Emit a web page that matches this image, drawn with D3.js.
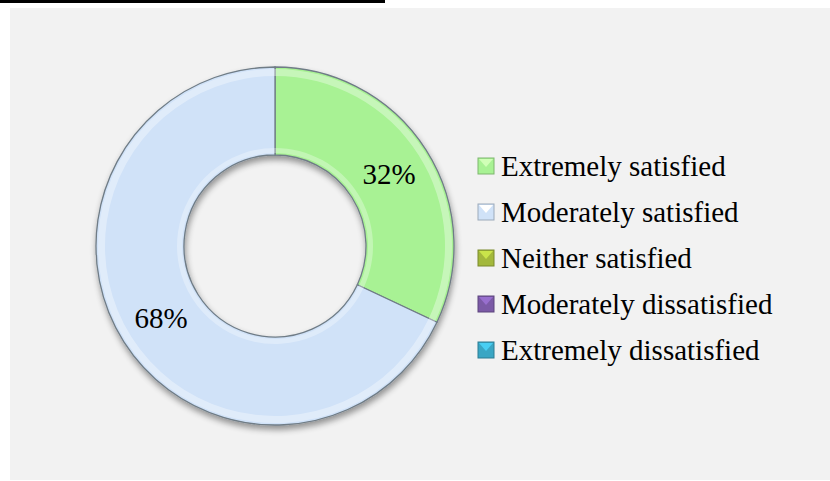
<!DOCTYPE html>
<meta charset="utf-8">
<html>
  <head>
    <style>
      body { margin: 0; background: #ffffff; }
      svg { display: block; }
    </style>
    <script src="https://d3js.org/d3.v7.min.js"></script>
  </head>
  <body>
<div id="chart"></div>
<script>

// data
var categories = ["Extremely satisfied", "Moderately satisfied", "Neither satisfied",
                  "Moderately dissatisfied", "Extremely dissatisfied"];
var values = [32, 68, 0, 0, 0];
var colors = ["#a8f294", "#d0e2f8", "#a3b83c", "#7b5aa6", "#3aa6c4"];

var width = 830, height = 481;
var cx = 275, cy = 246, outerR = 179, innerR = 91;
var serif = "'Liberation Serif', 'Times New Roman', serif";

var svg = d3.select("#chart")
  .append("svg")
  .attr("width", width)
  .attr("height", height);

// black bar at top and grey plot panel
svg.append("rect").attr("x", 0).attr("y", 0).attr("width", 385).attr("height", 3).attr("fill", "#000");
svg.append("rect").attr("x", 10).attr("y", 8).attr("width", 820).attr("height", 472).attr("fill", "#f2f2f2");

var defs = svg.append("defs");
var shadow = defs.append("filter").attr("id", "shadow")
  .attr("x", "-10%").attr("y", "-10%").attr("width", "120%").attr("height", "125%");
shadow.append("feGaussianBlur").attr("in", "SourceAlpha").attr("stdDeviation", 3).attr("result", "blur");
shadow.append("feOffset").attr("dx", 1).attr("dy", 4).attr("result", "off");
shadow.append("feComponentTransfer").append("feFuncA").attr("type", "linear").attr("slope", 0.4);
var merge = shadow.append("feMerge");
merge.append("feMergeNode");
merge.append("feMergeNode").attr("in", "SourceGraphic");

var data = categories.map(function(c, i) { return {name: c, value: values[i], color: colors[i]}; });

var pie = d3.pie()
  .sort(null)
  .value(function(d) { return d.value; });

var arc = d3.arc().innerRadius(innerR).outerRadius(outerR);
// thin highlight band just inside the edges
var hiOuter = d3.arc().innerRadius(outerR - 9).outerRadius(outerR - 2);
var hiInner = d3.arc().innerRadius(innerR + 2).outerRadius(innerR + 7);

var arcs = pie(data).filter(function(d) { return d.data.value > 0; });

var g = svg.append("g")
  .attr("transform", "translate(" + cx + "," + cy + ")");

var ring = g.append("g").attr("filter", "url(#shadow)");

ring.selectAll("path.slice")
  .data(arcs)
  .enter()
  .append("path")
  .attr("class", "slice")
  .attr("d", arc)
  .attr("fill", function(d) { return d.data.color; })
  .attr("stroke", "#6f7c86")
  .attr("stroke-width", 1.3);

g.selectAll("path.hi")
  .data(arcs)
  .enter()
  .append("path")
  .attr("class", "hi")
  .attr("d", hiOuter)
  .attr("fill", "#ffffff")
  .attr("opacity", 0.35);

g.selectAll("path.hi2")
  .data(arcs)
  .enter()
  .append("path")
  .attr("class", "hi2")
  .attr("d", hiInner)
  .attr("fill", "#ffffff")
  .attr("opacity", 0.3);

g.selectAll("text.pct")
  .data(arcs)
  .enter()
  .append("text")
  .attr("class", "pct")
  .attr("transform", function(d) { return "translate(" + arc.centroid(d) + ")"; })
  .attr("text-anchor", "middle")
  .attr("dy", "0.35em")
  .style("font-family", serif)
  .style("font-size", "29px")
  .attr("fill", "#000")
  .text(function(d) { return d.data.value + "%"; });

// legend
var legendY = d3.scalePoint()
  .domain(categories)
  .range([166, 350]);

var item = svg.append("g").selectAll("g")
  .data(data)
  .enter()
  .append("g")
  .attr("transform", function(d) { return "translate(478," + legendY(d.name) + ")"; });

var s = 16;
item.append("rect")
  .attr("x", 0).attr("y", -s / 2)
  .attr("width", s).attr("height", s)
  .attr("fill", function(d) { return d.color; })
  .attr("stroke", function(d) { return d3.color(d.color).darker(0.8); })
  .attr("stroke-width", 1);

item.append("path")
  .attr("d", "M1," + (-s / 2 + 1) + "L" + (s - 1) + "," + (-s / 2 + 1) + "L" + (s / 2) + ",1Z")
  .attr("fill", function(d) { return d3.color(d.color).brighter(0.6); });

item.append("text")
  .attr("x", 23)
  .attr("y", 0)
  .attr("dy", "0.34em")
  .style("font-family", serif)
  .style("font-size", "29px")
  .attr("fill", "#000")
  .text(function(d) { return d.name; });

</script>
</body>
</html>
